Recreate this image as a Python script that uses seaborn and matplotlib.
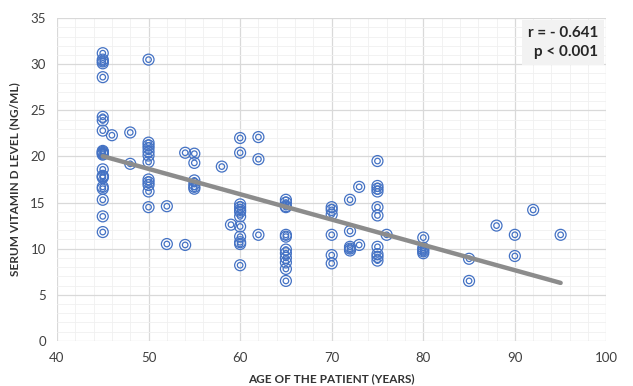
import pandas as pd
import matplotlib.pyplot as plt
import seaborn as sns
from matplotlib.ticker import MultipleLocator

# Values (age in years, serum vitamin D in ng/ml)
age = (
    [45] * 22 + [46] + [48] * 2 + [50] * 12 + [52] * 2 + [54] * 2 + [55] * 6
    + [58] + [59] + [60] * 12 + [62] * 3 + [65] * 12 + [70] * 6 + [72] * 5
    + [73] * 2 + [75] * 10 + [76] + [80] * 5 + [85] * 2 + [88] + [90] * 2
    + [92] + [95]
)
vitamin_d = [
    # 45
    31.2, 30.5, 30.3, 30.1, 28.6, 24.3, 23.9, 22.8, 20.6, 20.5, 20.4, 20.2,
    18.6, 17.9, 17.8, 17.7, 16.7, 16.5, 15.3, 13.5, 11.8, 20.3,
    # 46, 48
    22.3, 22.6, 19.2,
    # 50
    30.5, 21.5, 21.2, 20.9, 20.5, 20.1, 19.4, 17.5, 17.2, 16.9, 16.2, 14.5,
    # 52, 54
    14.6, 10.5, 20.4, 10.4,
    # 55
    20.3, 19.3, 17.4, 17.0, 16.7, 16.5,
    # 58, 59
    18.9, 12.6,
    # 60
    22.0, 20.4, 14.8, 14.5, 14.2, 14.0, 13.5, 12.4, 11.3, 10.7, 10.5, 8.2,
    # 62
    22.1, 19.7, 11.5,
    # 65
    15.3, 15.0, 14.6, 14.5, 11.5, 11.3, 9.9, 9.5, 9.0, 8.5, 7.8, 6.5,
    # 70
    14.5, 14.2, 13.7, 11.5, 9.3, 8.4,
    # 72
    15.3, 11.9, 10.2, 10.0, 9.8,
    # 73
    16.7, 10.4,
    # 75
    19.5, 16.8, 16.5, 16.2, 14.5, 13.6, 10.2, 9.4, 9.1, 8.7,
    # 76
    11.5,
    # 80
    11.2, 10.1, 9.9, 9.7, 9.5,
    # 85, 88, 90, 92, 95
    8.9, 6.5, 12.5, 11.5, 9.2, 14.2, 11.5,
]
stats_text = "r = - 0.641\np < 0.001"

df = pd.DataFrame({"age": age, "vitd": vitamin_d})

sns.set_style("white")
plt.rcParams["font.family"] = ["Lato", "DejaVu Sans"]

fig, ax = plt.subplots(figsize=(6.33, 3.86), dpi=100)
fig.subplots_adjust(left=0.09, right=0.958, top=0.953, bottom=0.117)

blue = "#4472C4"
# double-ring markers: outer + inner circle
sns.scatterplot(data=df, x="age", y="vitd", ax=ax, marker="o", s=62,
                facecolors="none", edgecolor=blue, linewidth=0.9, zorder=3)
sns.scatterplot(data=df, x="age", y="vitd", ax=ax, marker="o", s=16,
                facecolors="none", edgecolor=blue, linewidth=0.9, zorder=3)

# linear trend line
sns.regplot(data=df, x="age", y="vitd", ax=ax, scatter=False, ci=None,
            truncate=True, line_kws={"color": "#8c8c8c", "linewidth": 3.2,
                                     "zorder": 4, "solid_capstyle": "round"})

ax.set_xlim(40, 100)
ax.set_ylim(0, 35)
ax.xaxis.set_major_locator(MultipleLocator(10))
ax.xaxis.set_minor_locator(MultipleLocator(2))
ax.yaxis.set_major_locator(MultipleLocator(5))
ax.yaxis.set_minor_locator(MultipleLocator(1))
ax.grid(which="major", color="#d9d9d9", linewidth=0.9, zorder=0)
ax.grid(which="minor", color="#f0f0f0", linewidth=0.6, zorder=0)
ax.set_axisbelow(True)
for s in ax.spines.values():
    s.set_visible(False)
ax.tick_params(which="both", length=0, labelsize=9.5, colors="#404040", pad=8)

ax.set_xlabel("AGE OF THE PATIENT (YEARS)", fontsize=8.5, fontweight="bold",
              color="#333333", labelpad=7)
ax.set_ylabel("SERUM VITAMIN D LEVEL (NG/ML)", fontsize=8.5, fontweight="bold",
              color="#333333", labelpad=7)

ax.text(0.985, 0.975, stats_text, transform=ax.transAxes, ha="right", va="top",
        fontsize=11, fontweight="bold", color="#262626", linespacing=1.4,
        bbox=dict(boxstyle="square,pad=0.4", facecolor="#f2f2f2",
                  edgecolor="none"), zorder=5)

plt.savefig("out.png", dpi=100)
